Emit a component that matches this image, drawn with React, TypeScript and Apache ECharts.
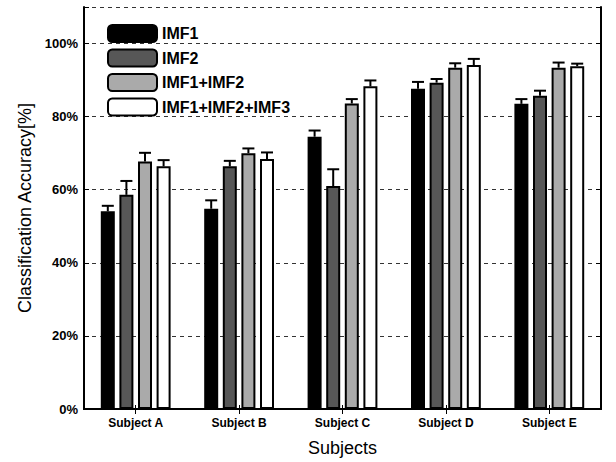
import React, { useEffect, useRef } from "react";
import * as echarts from "echarts";

const categories = ["Subject A", "Subject B", "Subject C", "Subject D", "Subject E"];
const seriesNames = ["IMF1", "IMF2", "IMF1+IMF2", "IMF1+IMF2+IMF3"];
const imf1 = [54.1, 54.8, 74.5, 87.6, 83.5];
const imf2 = [58.6, 66.4, 61.0, 89.3, 85.7];
const imf12 = [67.7, 70.0, 83.6, 93.4, 93.4];
const imf123 = [66.4, 68.4, 88.3, 94.1, 93.8];
const err1 = [1.5, 2.3, 1.7, 1.9, 1.3];
const err2 = [3.8, 1.5, 4.6, 1.0, 1.4];
const err12 = [2.4, 1.3, 1.2, 1.2, 1.4];
const err123 = [1.7, 1.8, 1.6, 1.7, 0.7];
const yTicks = [0, 20, 40, 60, 80, 100];

const values = [imf1, imf2, imf12, imf123];
const errors = [err1, err2, err12, err123];
const colors = ["#000000", "#575757", "#aaaaaa", "#ffffff"];

const BAR_W = 14;
const GAP_PX = 4.6;

export default function App() {
  const ref = useRef<HTMLDivElement>(null);
  useEffect(() => {
    if (!ref.current) return;
    const chart = echarts.init(ref.current, null, { renderer: "svg" });
    const barSeries = seriesNames.map((name, i) => ({
      name,
      type: "bar",
      data: values[i],
      barWidth: BAR_W,
      barGap: (GAP_PX / BAR_W) * 100 + "%",
      itemStyle: { color: colors[i], borderColor: "#000", borderWidth: 2 },
      z: 2,
    }));
    const errSeries = seriesNames.map((name, i) => ({
      name: name + "_err",
      type: "custom",
      z: 3,
      data: categories.map((_, c) => [c, values[i][c], errors[i][c]]),
      encode: { x: 0, y: 1 },
      renderItem: (params: any, api: any) => {
        const c = api.value(0);
        const v = api.value(1);
        const e = api.value(2);
        const base = api.coord([c, v]);
        const top = api.coord([c, v + e]);
        const off = (i - 1.5) * (BAR_W + GAP_PX);
        const x = base[0] + off;
        const half = 6;
        const style = { stroke: "#000", lineWidth: 2 };
        return {
          type: "group",
          children: [
            { type: "line", shape: { x1: x, y1: base[1], x2: x, y2: top[1] }, style },
            { type: "line", shape: { x1: x - half, y1: top[1], x2: x + half, y2: top[1] }, style },
          ],
        };
      },
    }));
    chart.setOption({
      animation: false,
      backgroundColor: "#ffffff",
      grid: { left: 84, right: 15, top: 7, bottom: 47 },
      legend: {
        data: seriesNames.map((n, i) => ({
          name: n,
          itemStyle: { color: colors[i], borderColor: "#000", borderWidth: 2, borderType: "solid" },
        })),
        orient: "vertical",
        left: 102,
        top: 19,
        itemWidth: 49,
        itemHeight: 17,
        itemGap: 5.5,
        icon: "roundRect",
        textStyle: { fontFamily: "Liberation Sans", fontWeight: "bold", fontSize: 16, color: "#000" },
      },
      xAxis: [
        {
          type: "category",
          data: categories,
          position: "bottom",
          axisLine: { lineStyle: { color: "#000", width: 2 } },
          axisTick: { show: true, inside: true, alignWithLabel: true, length: 4, lineStyle: { color: "#000" } },
          axisLabel: { fontFamily: "Liberation Sans", fontWeight: "bold", fontSize: 12, color: "#000", margin: 8 },
          name: "Subjects",
          nameLocation: "middle",
          nameGap: 30,
          nameTextStyle: { fontFamily: "Liberation Sans", fontSize: 18, color: "#000" },
        },
        {
          type: "category",
          data: categories,
          position: "top",
          axisLine: { lineStyle: { color: "#000", width: 2 } },
          axisTick: { show: true, inside: true, alignWithLabel: true, length: 5, lineStyle: { color: "#000" } },
          axisLabel: { show: false },
        },
      ],
      yAxis: [
        {
          type: "value",
          min: 0,
          max: 110,
          interval: 20,
          position: "left",
          axisLine: { show: true, lineStyle: { color: "#000", width: 2 } },
          axisTick: { show: true, inside: true, length: 5, lineStyle: { color: "#000" } },
          axisLabel: {
            fontFamily: "Liberation Sans",
            fontWeight: "bold",
            fontSize: 13,
            color: "#000",
            margin: 6,
            formatter: (v: number) => (yTicks.includes(v) ? v + "%" : ""),
          },
          splitLine: { show: true, lineStyle: { color: "#333", type: [4, 4], width: 1 } },
          name: "Classification Accuracy[%]",
          nameLocation: "middle",
          nameGap: 48,
          nameTextStyle: { fontFamily: "Liberation Sans", fontSize: 18, color: "#000" },
        },
        {
          type: "value",
          min: 0,
          max: 110,
          interval: 20,
          position: "right",
          axisLine: { show: true, lineStyle: { color: "#000", width: 2 } },
          axisTick: { show: true, inside: true, length: 5, lineStyle: { color: "#000" } },
          axisLabel: { show: false },
          splitLine: { show: false },
        },
      ],
      series: [...barSeries, ...errSeries],
    });
    return () => chart.dispose();
  }, []);
  return (
    <div
      ref={ref}
      style={{ position: "absolute", left: 0, top: 0, width: 616, height: 462, background: "#fff" }}
    />
  );
}
